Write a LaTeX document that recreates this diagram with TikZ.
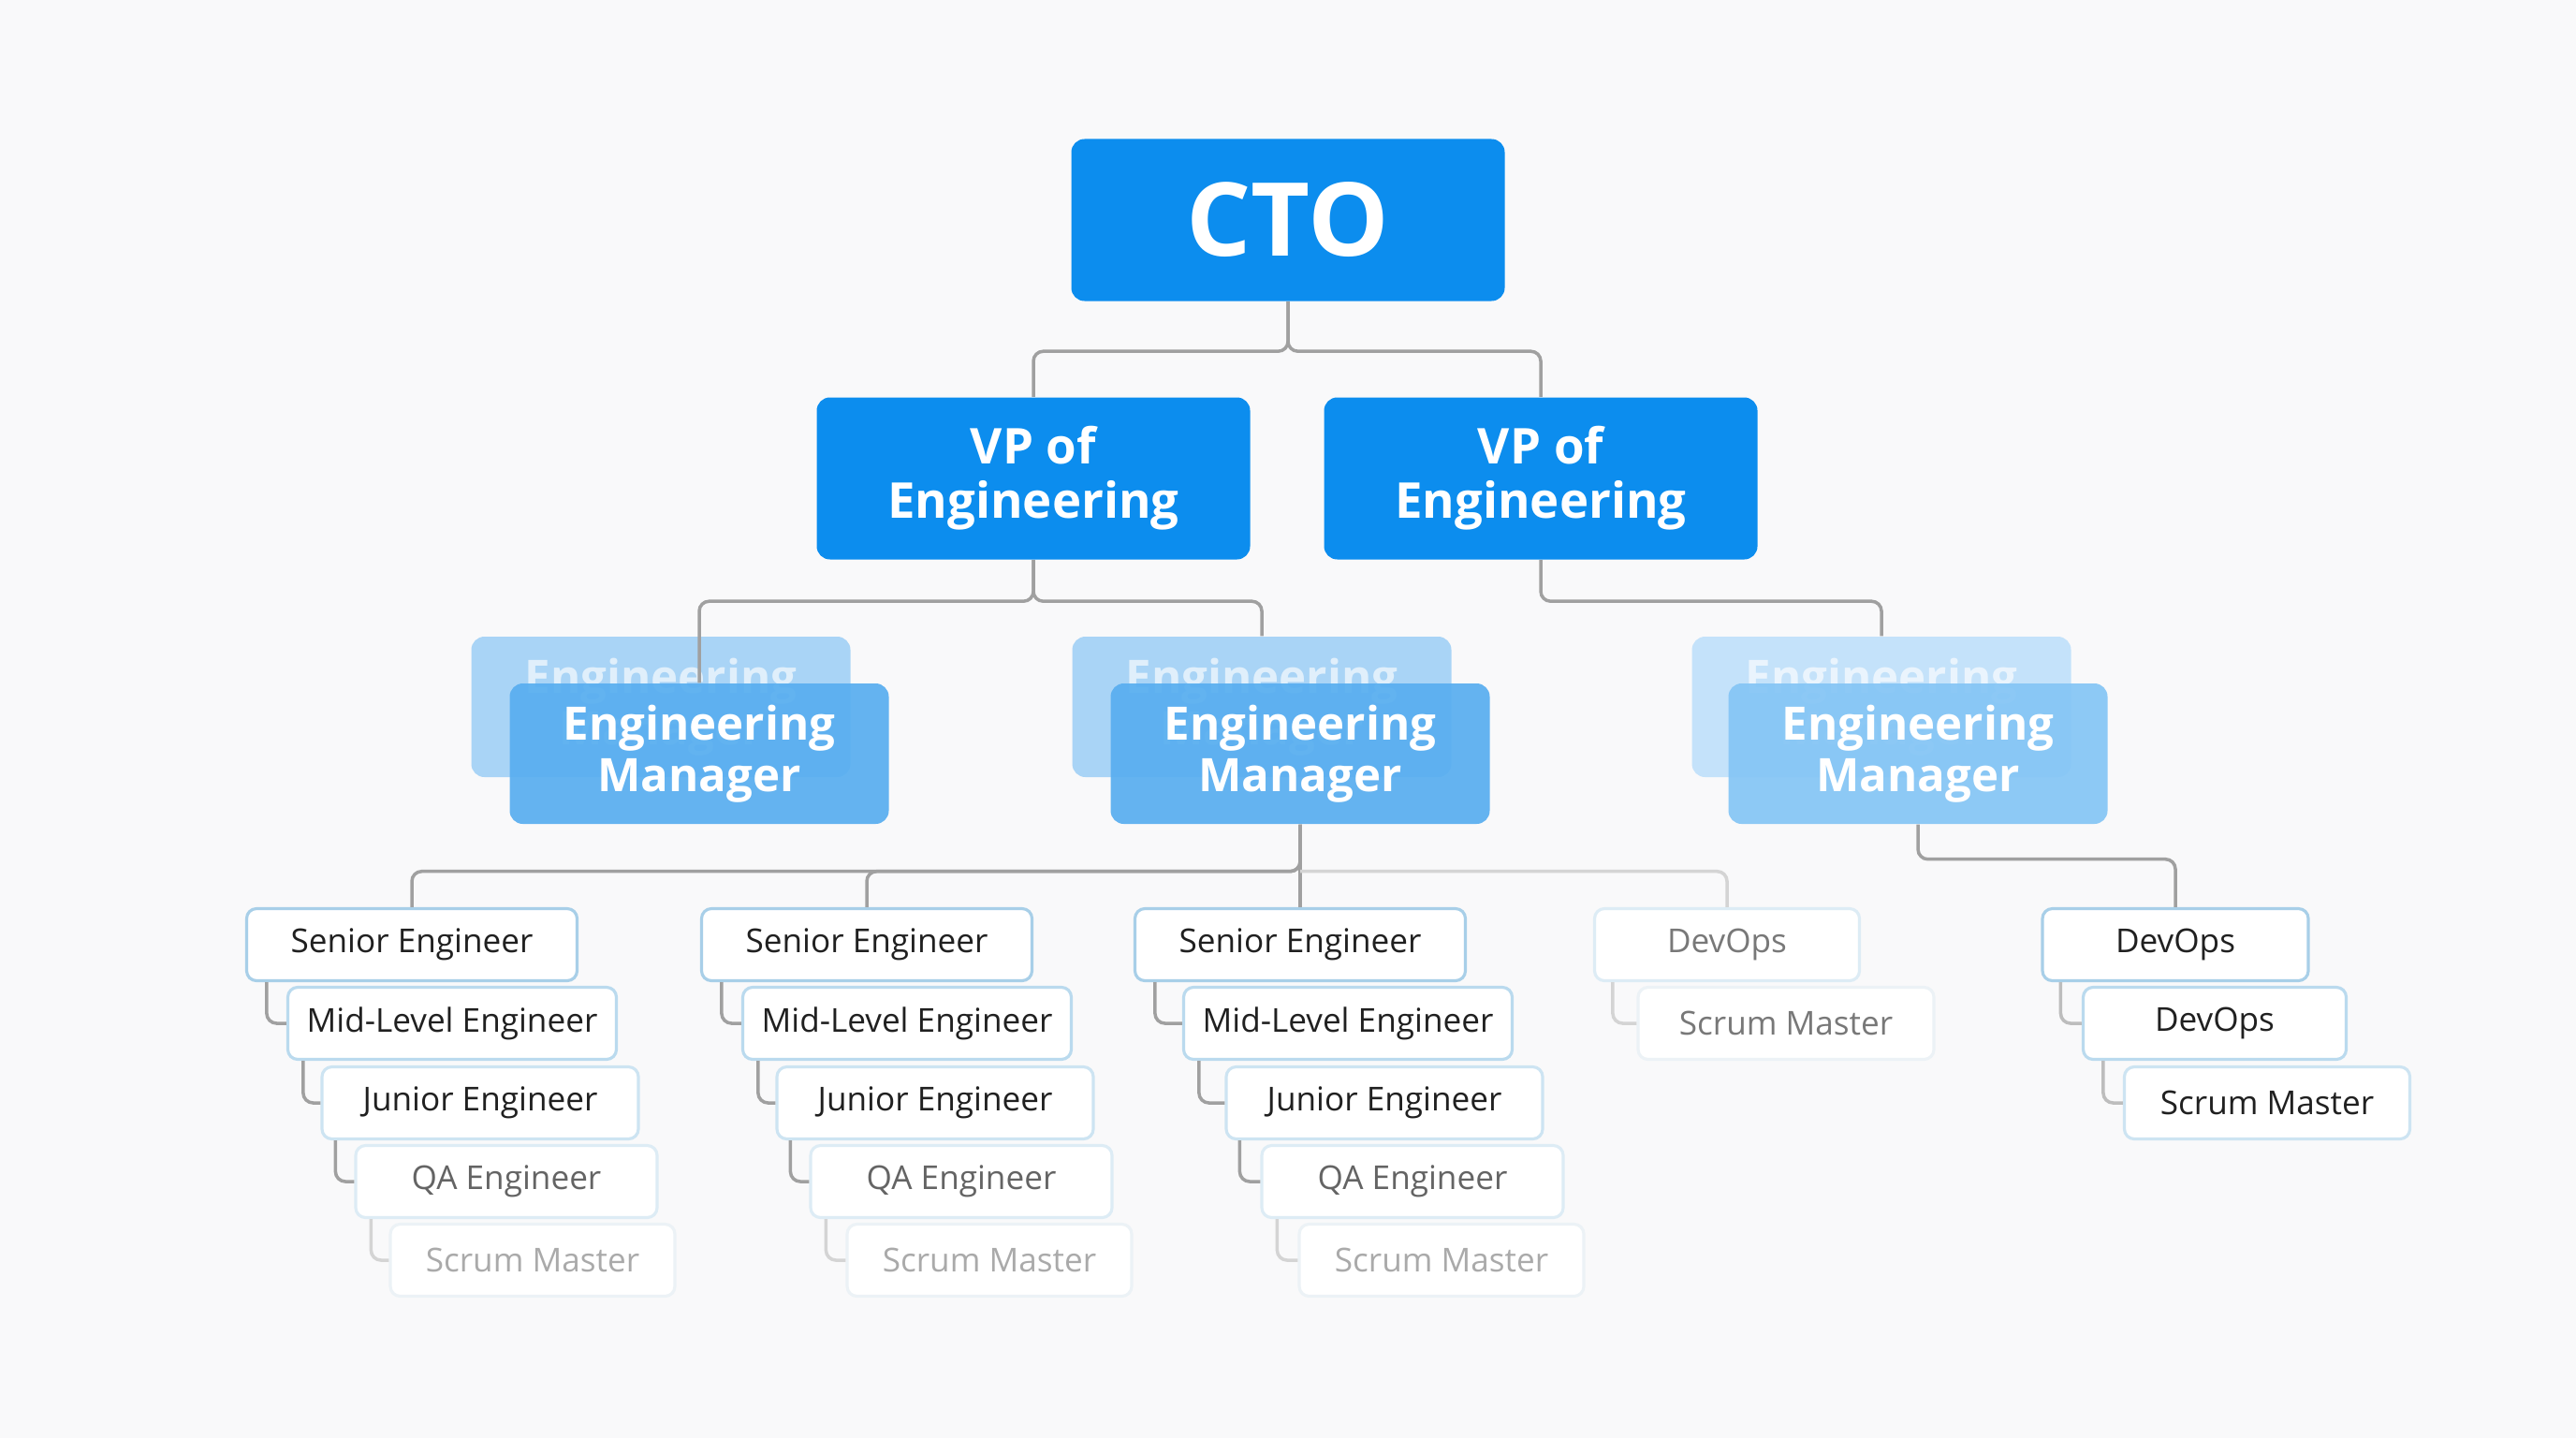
\documentclass[tikz,border=0pt]{standalone}
\usepackage{fontspec}
\setmainfont{Open Sans}
\usepackage{xcolor}
\usepackage{tikz}
\usetikzlibrary{positioning,calc}

\definecolor{ctoblue}{RGB}{12,141,238}
\definecolor{emblue}{RGB}{88,174,240}
\definecolor{emghost}{RGB}{163,209,246}
\definecolor{emblueC}{RGB}{132,197,245}
\definecolor{emghostC}{RGB}{192,225,250}
\definecolor{linegray}{RGB}{160,160,160}
\definecolor{bgpaper}{RGB}{249,249,250}
\definecolor{inkdark}{RGB}{32,32,32}
\definecolor{inkmid}{RGB}{100,100,100}
\definecolor{inkpale}{RGB}{120,120,120}
\definecolor{inklight}{RGB}{170,170,170}
\definecolor{bdA}{RGB}{168,207,232}
\definecolor{bdB}{RGB}{186,218,238}
\definecolor{bdC}{RGB}{205,228,242}
\definecolor{bdD}{RGB}{221,236,245}
\definecolor{bdE}{RGB}{236,242,246}

\begin{document}
\begin{tikzpicture}[
  font=\small,
  top/.style={rounded corners=4pt, fill=ctoblue, text=white, align=center,
              font=\bfseries\fontsize{15}{16.5}\selectfont,
              minimum width=4.63cm, minimum height=1.73cm},
  mgr/.style={rounded corners=4pt, fill=emblue, fill opacity=0.92, text opacity=1,
              text=white, align=center, font=\bfseries\fontsize{14}{15.5}\selectfont,
              minimum width=4.05cm, minimum height=1.5cm},
  ghost/.style={mgr, fill=emghost, text opacity=0.65},
  role/.style={draw=#1, rounded corners=3pt, fill=white, line width=0.9pt,
               minimum height=0.77cm, font=\fontsize{10}{12}\selectfont},
  rowA/.style={role=bdA, text=inkdark, minimum width=3.53cm},
  rowB/.style={role=bdB, text=inkdark, minimum width=3.51cm},
  rowC/.style={role=bdC, text=inkdark, minimum width=3.38cm},
  rowD/.style={role=bdD, text=inkmid, minimum width=3.22cm},
  rowE/.style={role=bdE, text=inklight, minimum width=3.04cm},
  link/.style={draw=linegray, line width=1pt, rounded corners=3pt},
  faint/.style={link, draw=linegray!45},
]
\fill[bgpaper] (0,0) rectangle (27.52,-15.36);
\useasboundingbox (0,0) rectangle (27.52,-15.36);

% top levels
\node[top, font=\bfseries\fontsize{31}{36}\selectfont] (cto) at (13.76,-2.35) {CTO};
\node[top] (vp1) at (11.04,-5.11) {VP of\\Engineering};
\node[top] (vp2) at (16.46,-5.11) {VP of\\Engineering};

% managers (ghost copy behind each one)
\node[ghost] (gem1) at (7.06,-7.55) {Engineering\\Manager};
\node[mgr]   (em1)  at (7.47,-8.05) {Engineering\\Manager};
\node[ghost] (gem2) at (13.48,-7.55) {Engineering\\Manager};
\node[mgr]   (em2)  at (13.89,-8.05) {Engineering\\Manager};
\node[ghost, fill=emghostC] (gem3) at (20.10,-7.55) {Engineering\\Manager};
\node[mgr, fill=emblueC]    (em3)  at (20.49,-8.05) {Engineering\\Manager};

% team 1
\node[rowA] (sen1) at (4.40,-10.09) {Senior Engineer};
\node[rowB] (mid1) at (4.83,-10.93) {Mid-Level Engineer};
\node[rowC] (jun1) at (5.13,-11.78) {Junior Engineer};
\node[rowD] (qa1)  at (5.41,-12.62) {QA Engineer};
\node[rowE] (sm1)  at (5.69,-13.46) {Scrum Master};
% team 2
\node[rowA] (sen2) at (9.26,-10.09) {Senior Engineer};
\node[rowB] (mid2) at (9.69,-10.93) {Mid-Level Engineer};
\node[rowC] (jun2) at (9.99,-11.78) {Junior Engineer};
\node[rowD] (qa2)  at (10.27,-12.62) {QA Engineer};
\node[rowE] (sm2)  at (10.57,-13.46) {Scrum Master};
% team 3
\node[rowA] (sen3) at (13.89,-10.09) {Senior Engineer};
\node[rowB] (mid3) at (14.40,-10.93) {Mid-Level Engineer};
\node[rowC] (jun3) at (14.79,-11.78) {Junior Engineer};
\node[rowD] (qa3)  at (15.09,-12.62) {QA Engineer};
\node[rowE] (sm3)  at (15.40,-13.46) {Scrum Master};
% ops
\node[role=bdD, text=inkpale, minimum width=2.83cm] (dev1) at (18.45,-10.09) {DevOps};
\node[role=bdE, text=inkpale, minimum width=3.16cm] (sm4)  at (19.08,-10.93) {Scrum Master};
\node[role=bdA, text=inkdark, minimum width=2.84cm] (dev2) at (23.24,-10.09) {DevOps};
\node[role=bdB, text=inkdark, minimum width=2.81cm] (dev3) at (23.66,-10.93) {DevOps};
\node[role=bdC, text=inkdark, minimum width=3.05cm] (sm5)  at (24.22,-11.78) {Scrum Master};

% connectors
\draw[link] (cto.south) -- ++(0,-0.53) -| (vp1.north);
\draw[link] (cto.south) -- ++(0,-0.53) -| (vp2.north);
\draw[link] (vp1.south) -- ++(0,-0.44) -| (em1.north);
\draw[link] (vp1.south) -- ++(0,-0.44) -| (gem2.north);
\draw[link] (vp2.south) -- ++(0,-0.44) -| (gem3.north);
\draw[link] (em2.south) -- ++(0,-0.50) -| (sen1.north);
\draw[link] (em2.south) -- ++(0,-0.50) -| (sen2.north);
\draw[link] (em2.south) -- (sen3.north);
\draw[faint] ([yshift=-0.50cm]em2.south) -| (dev1.north);
\draw[link] (em3.south) -- ++(0,-0.37) -| (dev2.north);

\draw[link]  ([xshift=0.23cm]sen1.south west) |- (mid1.west);
\draw[link]  ([xshift=0.18cm]mid1.south west) |- (jun1.west);
\draw[link]  ([xshift=0.16cm]jun1.south west) |- (qa1.west);
\draw[faint] ([xshift=0.18cm]qa1.south west) |- (sm1.west);
\draw[link]  ([xshift=0.23cm]sen2.south west) |- (mid2.west);
\draw[link]  ([xshift=0.18cm]mid2.south west) |- (jun2.west);
\draw[link]  ([xshift=0.16cm]jun2.south west) |- (qa2.west);
\draw[faint] ([xshift=0.18cm]qa2.south west) |- (sm2.west);
\draw[link]  ([xshift=0.23cm]sen3.south west) |- (mid3.west);
\draw[link]  ([xshift=0.18cm]mid3.south west) |- (jun3.west);
\draw[link]  ([xshift=0.16cm]jun3.south west) |- (qa3.west);
\draw[faint] ([xshift=0.18cm]qa3.south west) |- (sm3.west);
\draw[faint] ([xshift=0.21cm]dev1.south west) |- (sm4.west);
\draw[link, draw=linegray!70] ([xshift=0.21cm]dev2.south west) |- (dev3.west);
\draw[link, draw=linegray!70] ([xshift=0.23cm]dev3.south west) |- (sm5.west);
\end{tikzpicture}
\end{document}
